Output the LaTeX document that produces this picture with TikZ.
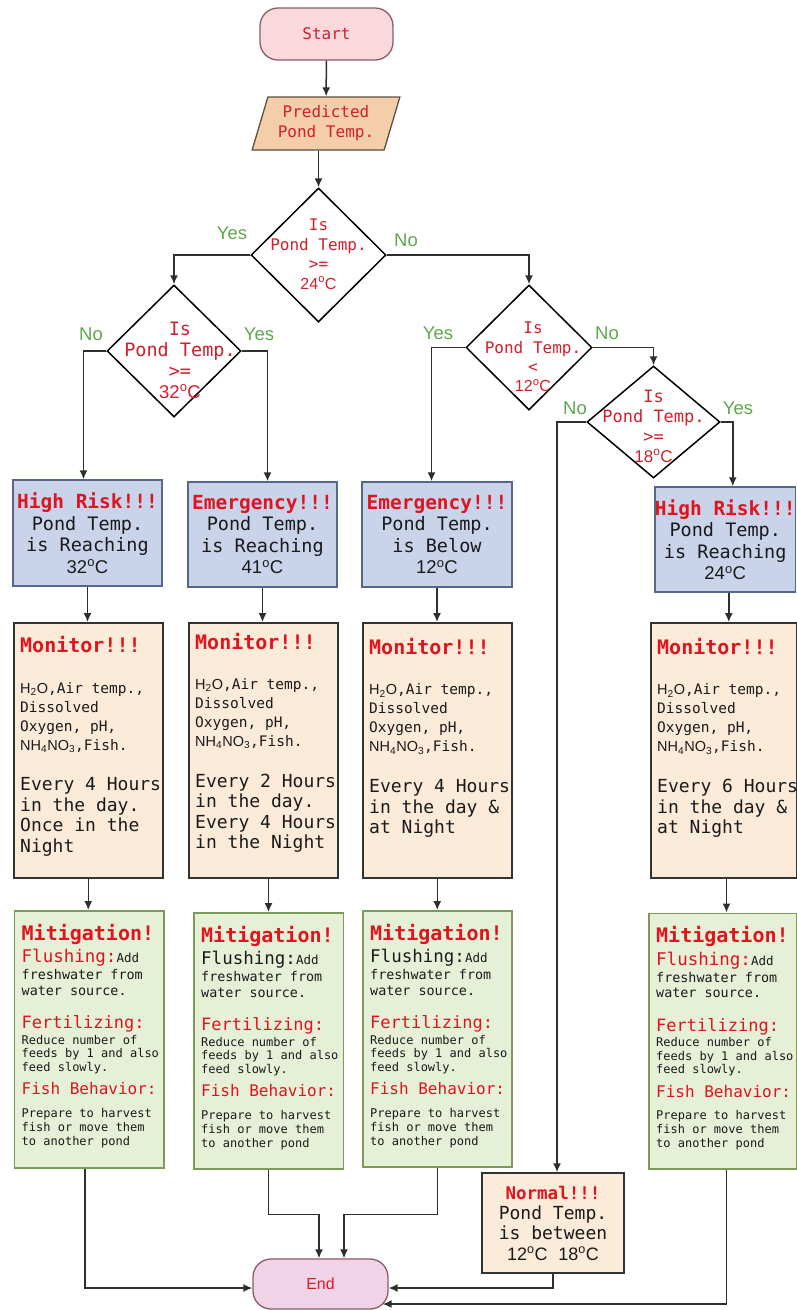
\documentclass[tikz,border=0pt]{standalone}
\usepackage{fontspec}
\setmainfont{DejaVu Sans Mono}
\newfontfamily\sansf{Liberation Sans}
\usetikzlibrary{shapes.geometric,arrows.meta,calc}

\definecolor{hred}{HTML}{E0141E}
\definecolor{dred}{HTML}{D0202C}
\definecolor{ygreen}{HTML}{5DA94B}
\definecolor{lineg}{HTML}{2E2E2E}
\definecolor{startf}{HTML}{F9D8DE}
\definecolor{startd}{HTML}{8C5C66}
\definecolor{endf}{HTML}{F0D3E6}
\definecolor{paraf}{HTML}{F3CEA8}
\definecolor{parad}{HTML}{5E5042}
\definecolor{bluef}{HTML}{C9D3EA}
\definecolor{blued}{HTML}{56678A}
\definecolor{peachf}{HTML}{FDEBDA}
\definecolor{peachd}{HTML}{333333}
\definecolor{greenf}{HTML}{E6F0D7}
\definecolor{greend}{HTML}{7C9A5A}
\definecolor{bodyk}{HTML}{1A1A1A}

\newcommand{\dg}[1]{{\sansf #1\textsuperscript{o}C}}
\newcommand{\chemtext}{{\sansf H\textsubscript{2}O},Air temp.,\\Dissolved\\Oxygen, pH,\\{\sansf NH\textsubscript{4}NO\textsubscript{3}},Fish.}

\tikzset{
 arr/.style={draw=lineg, line width=1.5pt, -{Latex[length=9pt,width=8pt]}},
 term/.style={rectangle, rounded corners=18pt, draw=startd, line width=1.3pt, inner sep=0, text=dred},
 dec/.style={diamond, draw=black, line width=1.5pt, inner sep=0, fill=white},
 dtext/.style={text=dred, align=center, inner sep=0},
 yn/.style={text=ygreen, font=\sansf\fontsize{18.5}{20}\selectfont, inner sep=0},
 bbox/.style={rectangle, draw=blued, fill=bluef, line width=1.5pt, inner sep=0, align=center, text=bodyk, font=\fontsize{18.5}{21.5}\selectfont},
 mbox/.style={rectangle, draw=peachd, fill=peachf, line width=1.5pt, inner sep=0},
 gbox/.style={rectangle, draw=greend, fill=greenf, line width=1.5pt, inner sep=0},
 txt/.style={inner sep=0, align=left, anchor=west, text=bodyk},
}

\newcommand{\hdr}[1]{{\fontsize{19.5}{21.5}\selectfont\bfseries\color{hred}#1}}

% monitor box: name, left, right, title y, chem y, every y, every text
\newcommand{\monbox}[7]{%
 \node[mbox, minimum width={#3-#2}, minimum height=255, anchor=north west] (#1) at (#2,622) {};
 \node[txt, text=hred, font=\fontsize{20}{22}\selectfont\bfseries] (#1t) at ({#2+7},#4) {Monitor!!!};
 \node[txt, font=\fontsize{14.5}{19}\selectfont] (#1c) at ({#2+7},#5) {\chemtext};
 \node[txt, font=\fontsize{18}{20.5}\selectfont] (#1e) at ({#2+7},#6) {#7};
}

% mitigation box: name, left, right, top, bottom, flushing colour
\newcommand{\mitbox}[6]{%
 \node[gbox, minimum width={#3-#2}, minimum height={#5-#4}, anchor=north west] (#1) at (#2,#4) {};
 \node[txt, text=hred, font=\fontsize{20}{22}\selectfont\bfseries] (#1t) at ({#2+8},{#4+24}) {Mitigation!};
 \node[txt, text=#6, font=\fontsize{17.5}{19}\selectfont] (#1f) at ({#2+8},{#4+48}) {Flushing:{\fontsize{12.5}{14}\selectfont\color{bodyk}Add}};
 \node[txt, font=\fontsize{13.4}{15.5}\selectfont] (#1w) at ({#2+8},{#4+72.5}) {freshwater from\\water source.};
 \node[txt, text=hred, font=\fontsize{17}{19}\selectfont] (#1z) at ({#2+8},{#4+114}) {Fertilizing:};
 \node[txt, font=\fontsize{12}{13.6}\selectfont] (#1r) at ({#2+8},{#4+144.5}) {Reduce number of\\feeds by 1 and also\\feed slowly.};
 \node[txt, text=hred, font=\fontsize{16}{18}\selectfont] (#1b) at ({#2+8},{#4+179}) {Fish Behavior:};
 \node[txt, font=\fontsize{12}{14}\selectfont] (#1p) at ({#2+8},{#4+218}) {Prepare to harvest\\fish or move them\\to another pond};
}

\begin{document}
\begin{tikzpicture}[x=1pt,y=-1pt]
\useasboundingbox[fill=white] (0,0) rectangle (796,1310);

% terminals and input
\node[term, fill=startf, minimum width=133, minimum height=52, font=\fontsize{16}{18}\selectfont] (start) at (326.5,34) {Start};
\node[trapezium, trapezium left angle=71, trapezium right angle=109, trapezium stretches=true,
      minimum width=148, minimum height=53, inner sep=2pt, draw=parad, fill=paraf, line width=1.3pt,
      text=dred, align=center, font=\fontsize{16}{20}\selectfont] (para) at (326,123.5) {Predicted\\Pond Temp.};

% decisions
\node[dec, minimum width=135, minimum height=134] (d1) at (318.5,255) {};
\node[dtext, font=\fontsize{16}{19.5}\selectfont] (d1t) at (318.5,254) {Is\\Pond Temp.\\>=\\\dg{24}};
\node[dec, minimum width=134, minimum height=132] (d2) at (174,351) {};
\node[dtext, font=\fontsize{18.5}{21}\selectfont] (d2t) at (180,360) {Is\\Pond Temp.\\>=\\\dg{32}};
\node[dec, minimum width=126, minimum height=125] (d3) at (529,347.5) {};
\node[dtext, font=\fontsize{16}{19.3}\selectfont] (d3t) at (533,357) {Is\\Pond Temp.\\<\\\dg{12}};
\node[dec, minimum width=133, minimum height=112] (d4) at (653.5,422) {};
\node[dtext, font=\fontsize{17}{20}\selectfont] (d4t) at (653.5,426) {Is\\Pond Temp.\\>=\\\dg{18}};

% yes / no labels
\node[yn] (y1) at (232,233) {Yes};
\node[yn] (n1) at (406,240) {No};
\node[yn] (n2) at (91,334) {No};
\node[yn] (y2) at (259,334) {Yes};
\node[yn] (y3) at (438,333) {Yes};
\node[yn] (n3) at (607,333) {No};
\node[yn] (n4) at (575,408) {No};
\node[yn] (y4) at (738,408) {Yes};

% status boxes
\node[bbox, minimum width=149, minimum height=106] (b1) at (87.5,533) {\hdr{High Risk!!!}\\Pond Temp.\\is Reaching\\\dg{32}};
\node[bbox, minimum width=149, minimum height=105] (b2) at (262.5,534.5) {\hdr{Emergency!!!}\\Pond Temp.\\is Reaching\\\dg{41}};
\node[bbox, minimum width=150, minimum height=105] (b3) at (437,534.5) {\hdr{Emergency!!!}\\Pond Temp.\\is Below\\\dg{12}};
\node[bbox, minimum width=140.5, minimum height=105] (b4) at (725.25,539.5) {\hdr{High Risk!!!}\\Pond Temp.\\is Reaching\\\dg{24}};

% monitor boxes
\monbox{m1}{13}{162}{645}{717.5}{817}{Every 4 Hours\\in the day.\\Once in the\\Night}
\monbox{m2}{188}{337}{642}{713.5}{813}{Every 2 Hours\\in the day.\\Every 4 Hours\\in the Night}
\monbox{m3}{362}{511}{647}{719}{808.5}{Every 4 Hours\\in the day \&\\at Night}
\monbox{m4}{650}{795.5}{647}{719}{808.5}{Every 6 Hours\\in the day \&\\at Night}

% mitigation boxes
\mitbox{g1}{13.5}{163}{910}{1167}{hred}
\mitbox{g2}{193}{342.5}{912}{1168}{bodyk}
\mitbox{g3}{362}{511}{910}{1166}{bodyk}
\mitbox{g4}{648}{795.5}{912.5}{1168}{hred}

% normal and end
\node[rectangle, draw=peachd, fill=peachf, line width=1.5pt, minimum width=142, minimum height=100, inner sep=0,
      align=center, text=bodyk, font=\fontsize{18}{20.3}\selectfont] (normal) at (553,1223)
      {{\fontsize{17.5}{20.3}\selectfont\bfseries\color{hred}Normal!!!}\\Pond Temp.\\is between\\\dg{12} \dg{18}};
\node[term, fill=endf, minimum width=135, minimum height=50, font=\sansf\fontsize{16}{18}\selectfont] (end) at (320.5,1284) {End};

% connectors
\draw[arr] (start) -- (para);
\draw[arr] (para.south -| d1.north) -- (d1.north);
\draw[arr] (d1.west) -| (d2.north);
\draw[arr] (d1.east) -| (d3.north);
\draw[arr] (d2.west) -| ([xshift=-4pt]b1.north);
\draw[arr] (d2.east) -| ([xshift=5pt]b2.north);
\draw[arr] (d3.west) -| ([xshift=-5.5pt]b3.north);
\draw[arr] (d3.east) -| (d4.north);
\draw[arr] (d4.west) -| ([xshift=4pt]normal.north);
\draw[arr] (d4.east) -| ([xshift=7.5pt]b4.north);

\draw[arr] (b1.south) -- (b1.south |- m1.north);
\draw[arr] (b2.south) -- (b2.south |- m2.north);
\draw[arr] (b3.south) -- (b3.south |- m3.north);
\draw[arr] ([xshift=3.5pt]b4.south) -- ([xshift=3.5pt]b4.south |- m4.north);

\draw[arr] (m1.south) -- (m1.south |- g1.north);
\draw[arr] (m2.south -| g2.north) -- (g2.north);
\draw[arr] (m3.south) -- (m3.south |- g3.north);
\draw[arr] ([xshift=3pt]m4.south) -- ([xshift=3pt]m4.south |- g4.north);

\draw[arr] ([xshift=-4pt]g1.south) |- ([yshift=-4pt]end.west);
\draw[arr] (g2.south) -- ++(0,45) -| ([xshift=-1.5pt]end.north);
\draw[arr] (g3.south) -- ++(0,47) -| ([xshift=23.5pt]end.north);
\draw[arr] (normal.south) |- ([yshift=-4pt]end.east);
\draw[arr] ([xshift=4pt]g4.south) |- ([xshift=-6pt,yshift=-20pt]end.east);
\end{tikzpicture}
\end{document}
